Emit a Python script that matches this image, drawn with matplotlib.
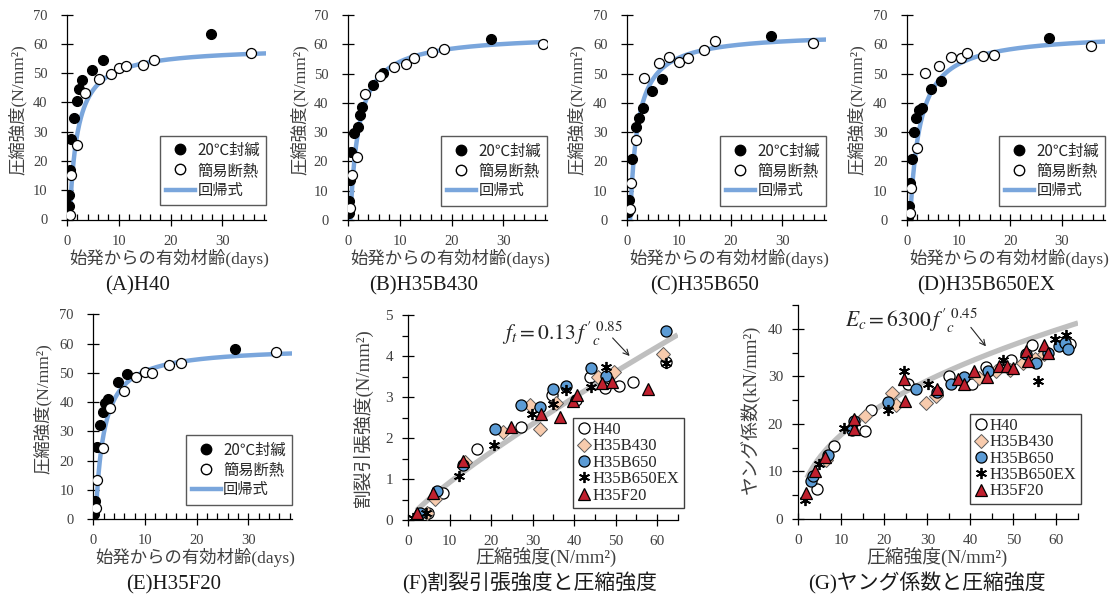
import matplotlib
matplotlib.use('Agg')
import matplotlib.pyplot as plt
import numpy as np
from matplotlib.ticker import MultipleLocator
from matplotlib.lines import Line2D

plt.rcParams['font.family'] = ['Liberation Serif', 'Noto Sans CJK JP']
plt.rcParams['mathtext.fontset'] = 'stix'

# ---------------- data: strength development (A)-(E) ----------------
A_seal_t = [0.3, 0.4, 0.6, 0.8, 1.3, 1.9, 2.3, 2.8, 4.9, 6.9, 27.8]
A_seal_f = [4.5, 8.2, 16.8, 27.4, 34.8, 40.4, 44.4, 47.8, 51.2, 54.6, 63.2]
A_adia_t = [0.5, 0.8, 1.9, 3.4, 6.1, 8.4, 10.1, 11.4, 14.6, 16.8, 35.6]
A_adia_f = [1.7, 15.3, 25.5, 43.2, 47.9, 49.7, 51.9, 52.5, 52.7, 54.6, 57.0]
A_fit = (59.0, 1.52, 0.5)   # (f_inf, a, t0) of regression f = f_inf (t-t0)/(a+t-t0)

B_seal_t = [0.2, 0.3, 0.4, 0.6, 1.3, 1.9, 2.3, 2.8, 4.9, 6.8, 27.6]
B_seal_f = [2.3, 6.5, 13.7, 23.1, 29.6, 31.7, 35.8, 38.5, 46.1, 50.1, 61.9]
B_adia_t = [0.5, 0.8, 1.8, 3.4, 6.2, 9.0, 11.2, 12.7, 16.2, 18.5, 37.6]
B_adia_f = [4.0, 15.4, 21.6, 42.9, 49.3, 52.1, 53.1, 55.2, 57.3, 58.5, 60.0]
B_fit = (63.5, 1.67, 0.5)

C_seal_t = [0.2, 0.45, 1.0, 1.8, 2.4, 3.0, 4.9, 6.8, 27.8]
C_seal_f = [2.7, 6.8, 20.8, 31.7, 35.0, 38.3, 44.1, 48.0, 62.8]
C_adia_t = [0.6, 0.8, 1.7, 3.2, 6.1, 8.2, 10.0, 11.8, 14.9, 17.0, 35.9]
C_adia_f = [3.9, 12.7, 27.3, 48.4, 53.5, 55.5, 54.0, 55.2, 58.2, 61.2, 60.5]
C_fit = (64.0, 1.46, 0.6)

D_seal_t = [0.1, 0.3, 0.6, 0.9, 1.3, 1.8, 2.4, 2.9, 4.7, 6.6, 27.5]
D_seal_f = [1.1, 4.8, 12.5, 20.7, 30.1, 34.7, 37.5, 38.3, 44.6, 47.4, 62.0]
D_adia_t = [0.6, 0.8, 1.9, 3.4, 6.3, 8.6, 10.4, 11.6, 14.7, 16.8, 35.7]
D_adia_f = [2.3, 10.8, 24.5, 50.3, 52.6, 55.5, 55.2, 57.1, 55.9, 56.3, 59.5]
D_fit = (64.0, 1.9, 0.6)

E_seal_t = [0.2, 0.4, 0.7, 1.3, 1.8, 2.3, 2.8, 4.7, 6.6, 27.4]
E_seal_f = [1.6, 6.2, 24.7, 32.2, 36.5, 39.8, 41.0, 47.0, 49.5, 58.2]
E_adia_t = [0.6, 0.8, 1.9, 3.3, 5.9, 8.2, 10.0, 11.4, 14.6, 16.9, 35.3]
E_adia_f = [3.9, 13.3, 24.2, 38.1, 43.9, 48.7, 50.1, 49.8, 52.7, 53.5, 57.0]
E_fit = (59.0, 1.6, 0.45)

# ---------------- data: (F) splitting tensile vs compressive ----------------
F_H40_x = [4.7, 8.3, 16.6, 27.1, 34.7, 40.4, 43.9, 47.4, 50.8, 54.2, 62.1]
F_H40_y = [0.16, 0.65, 1.74, 2.27, 3.05, 2.93, 3.48, 3.22, 3.28, 3.36, 3.86]
F_B430_x = [4.4, 6.4, 13.7, 22.9, 29.3, 31.7, 35.6, 45.8, 49.6, 61.4]
F_B430_y = [0.18, 0.51, 1.42, 2.14, 2.81, 2.21, 2.85, 3.50, 3.60, 4.06]
F_B650_x = [2.9, 7.0, 13.1, 20.9, 27.3, 31.7, 34.9, 38.0, 44.0, 47.8, 62.1]
F_B650_y = [0.17, 0.70, 1.35, 2.21, 2.81, 2.75, 3.20, 3.28, 3.71, 3.52, 4.61]
F_EX_x = [1.2, 4.3, 12.3, 20.7, 29.9, 34.8, 38.0, 44.2, 47.6, 62.1]
F_EX_y = [0.04, 0.16, 1.07, 1.82, 2.59, 2.83, 3.18, 3.24, 3.72, 3.83]
F_F20_x = [2.0, 6.0, 13.3, 24.7, 32.1, 36.7, 39.8, 40.8, 46.8, 49.2, 57.9]
F_F20_y = [0.16, 0.66, 1.43, 2.28, 2.59, 2.52, 2.90, 3.06, 3.34, 3.36, 3.20]
F_coef, F_exp = 0.13, 0.85

# ---------------- data: (G) Young's modulus vs compressive ----------------
G_H40_x = [4.4, 8.3, 15.6, 16.8, 25.5, 35.0, 40.3, 43.6, 49.5, 54.3, 63.1]
G_H40_y = [6.3, 15.4, 18.4, 23.0, 28.3, 30.0, 28.4, 31.9, 33.5, 36.5, 36.9]
G_B430_x = [6.5, 15.4, 21.8, 22.8, 29.6, 31.9, 42.0, 46.0, 49.1, 52.2, 54.9, 57.2]
G_B430_y = [12.5, 21.7, 26.4, 24.0, 24.3, 25.8, 29.7, 31.1, 31.3, 32.8, 33.7, 34.6]
G_B650_x = [2.9, 3.5, 6.8, 12.5, 13.0, 20.8, 27.3, 32.2, 35.4, 38.5, 44.0, 53.0, 55.3, 58.0, 60.7, 61.9, 62.7]
G_B650_y = [7.9, 9.1, 13.5, 18.8, 20.7, 24.5, 27.4, 26.7, 28.3, 29.8, 31.1, 34.6, 32.8, 35.0, 36.4, 37.1, 35.7]
G_EX_x = [1.6, 4.7, 10.7, 20.8, 24.5, 30.1, 47.5, 55.8, 59.6, 62.3]
G_EX_y = [4.1, 11.6, 19.2, 23.0, 31.1, 28.3, 33.5, 29.0, 37.9, 38.6]
G_F20_x = [1.8, 3.9, 6.2, 12.9, 12.9, 24.5, 24.8, 32.3, 37.0, 38.4, 40.9, 43.9, 46.7, 48.5, 49.9, 52.8, 53.4, 57.0, 58.0]
G_F20_y = [5.4, 10.0, 13.1, 18.9, 21.1, 29.5, 24.9, 27.3, 29.5, 28.3, 31.2, 29.8, 32.1, 32.1, 31.8, 35.3, 33.2, 36.5, 35.0]
G_coef, G_exp = 6.3, 0.45   # kN/mm2 (= 6300 N/mm2)

# ---------------- layout helpers ----------------
W, H = 1116, 600
fig = plt.figure(figsize=(W / 100, H / 100), dpi=100)

TXT = '#404040'
BLUE = '#7AA6DC'
GRAY = '#BFBFBF'


def px_axes(l, t, r, b):
    return fig.add_axes([l / W, 1 - b / H, (r - l) / W, (b - t) / H])


def ftext(x, y, s, **kw):
    fig.text(x / W, 1 - y / H, s, ha='center', va='center', **kw)


def style_axes(ax, xlab_size, ylab_pad, xlab_pad):
    for s in ['top', 'right']:
        ax.spines[s].set_visible(False)
    for s in ['left', 'bottom']:
        ax.spines[s].set_linewidth(0.9)
    ax.tick_params(axis='x', which='major', direction='inout', length=8, width=0.9,
                   pad=xlab_pad, labelsize=xlab_size, labelcolor=TXT)
    ax.tick_params(axis='y', which='major', direction='inout', length=8, width=0.9,
                   pad=ylab_pad, labelsize=xlab_size, labelcolor=TXT)
    ax.tick_params(axis='x', which='minor', direction='in', length=4, width=0.9)
    ax.tick_params(axis='y', which='minor', direction='out', length=4, width=0.9)


def age_panel(rect, st, sf, at, af, fit, title, ylx, yly, xlx, xly, ttx, tty):
    ax = px_axes(*rect)
    t0 = fit[2]
    tt = np.linspace(t0, 40, 400)
    ff = fit[0] * (tt - t0) / (fit[1] + tt - t0)
    ax.plot(tt, ff, color=BLUE, lw=3.2, zorder=2, solid_capstyle='butt')
    ax.plot(st, sf, ls='none', marker='o', ms=7.2, mfc='black', mec='black', mew=0.8, zorder=3)
    ax.plot(at, af, ls='none', marker='o', ms=7.2, mfc='white', mec='black', mew=0.9, zorder=3)
    ax.set_xlim(0, 38.4)
    ax.set_ylim(0, 70)
    ax.xaxis.set_major_locator(MultipleLocator(10))
    ax.xaxis.set_minor_locator(MultipleLocator(2))
    ax.yaxis.set_major_locator(MultipleLocator(10))
    style_axes(ax, 10.5, 10, 7)
    handles = [Line2D([], [], ls='none', marker='o', ms=7.5, mfc='black', mec='black'),
               Line2D([], [], ls='none', marker='o', ms=7.5, mfc='white', mec='black'),
               Line2D([], [], color=BLUE, lw=3.2)]
    hpx = rect[3] - rect[1]
    leg = ax.legend(handles, ['20℃封緘', '簡易断熱', '回帰式'], loc='lower right',
                    bbox_to_anchor=(1.0, 14.5 / hpx), borderaxespad=0,
                    fancybox=False, edgecolor='#595959', framealpha=1,
                    prop=dict(family=['Noto Sans CJK JP'], size=11),
                    handlelength=1.9, handletextpad=0.15, labelspacing=0.2,
                    borderpad=0.4)
    leg.get_frame().set_linewidth(1.0)
    for t in leg.get_texts():
        t.set_color('#262626')
    ftext(ylx, yly, '圧縮強度(N/mm²)', rotation=90, fontsize=12.5, color=TXT)
    ftext(xlx, xly, '始発からの有効材齢(days)', fontsize=12.5, color=TXT)
    ftext(ttx, tty, title, fontsize=15, color='#1a1a1a')
    return ax


age_panel((67, 14.5, 266, 219.5), A_seal_t, A_seal_f, A_adia_t, A_adia_f, A_fit,
          '(A)H40', 18, 110, 169.5, 258, 137.5, 286)
age_panel((347.7, 15, 547, 220), B_seal_t, B_seal_f, B_adia_t, B_adia_f, B_fit,
          '(B)H35B430', 300, 110, 450, 258, 424, 286)
age_panel((627, 15, 826, 220), C_seal_t, C_seal_f, C_adia_t, C_adia_f, C_fit,
          '(C)H35B650', 577, 110, 729.5, 258, 705, 286)
age_panel((907, 15, 1105, 220), D_seal_t, D_seal_f, D_adia_t, D_adia_f, D_fit,
          '(D)H35B650EX', 857, 110, 1009, 258, 986, 286)
age_panel((93.3, 314.3, 291.7, 519), E_seal_t, E_seal_f, E_adia_t, E_adia_f, E_fit,
          '(E)H35F20', 43, 409, 195, 557, 173.5, 585)

# ---------------- (F) and (G) ----------------
series_style = [
    dict(label='H40', marker='o', ms=8, mfc='white', mec='black', mew=0.9),
    dict(label='H35B430', marker='D', ms=7, mfc='#F8CBAD', mec='#595959', mew=0.7),
    dict(label='H35B650', marker='o', ms=8, mfc='#5B9BD5', mec='black', mew=0.9),
    dict(label='H35B650EX', marker=(6, 2, 0), ms=8, mfc='black', mec='black', mew=1.3),
    dict(label='H35F20', marker='^', ms=8.5, mfc='#C0202E', mec='black', mew=0.9),
]


def rel_panel(rect, xs, ys, coef, expo, ylim, ymajor, yminor, ylab, ylx, yly,
              xlx, title, ttx, eq, eq_xy, arr_from, arr_to, leg_box):
    ax = px_axes(*rect)
    xx = np.linspace(2.0, 65, 300)
    ax.plot(xx, coef * xx ** expo, color=GRAY, lw=3.8, zorder=1, solid_capstyle='butt')
    for x, y, st in zip(xs, ys, series_style):
        ax.plot(x, y, ls='none', zorder=3, **st)
    ax.set_xlim(0, 65)
    ax.set_ylim(0, ylim)
    ax.xaxis.set_major_locator(MultipleLocator(10))
    ax.xaxis.set_minor_locator(MultipleLocator(5))
    ax.yaxis.set_major_locator(MultipleLocator(ymajor))
    ax.yaxis.set_minor_locator(MultipleLocator(yminor))
    style_axes(ax, 11, 7, 7)
    ax.text(eq_xy[0], eq_xy[1], eq, fontsize=15.5, ha='left', va='center', color='#262626')
    ax.annotate('', xy=arr_to, xytext=arr_from,
                arrowprops=dict(arrowstyle='->', color='#262626', lw=0.8,
                                shrinkA=0, shrinkB=0))
    l, t, r, b = leg_box
    leg = ax.legend(loc='upper left', bbox_to_anchor=(l / W, 1 - t / H),
                    bbox_transform=fig.transFigure, borderaxespad=0,
                    fancybox=False, edgecolor='#404040', framealpha=1,
                    prop=dict(size=12), handlelength=0.8, handletextpad=0.15,
                    labelspacing=0.02, borderpad=0.25)
    leg.get_frame().set_linewidth(1.0)
    for t_ in leg.get_texts():
        t_.set_color('#262626')
    ftext(ylx, yly, ylab, rotation=90, fontsize=13.5, color=TXT)
    ftext(xlx, 557, '圧縮強度(N/mm²)', fontsize=13.5, color=TXT)
    ftext(ttx, 583, title, fontsize=15, color='#1a1a1a')
    return ax


rel_panel((408.3, 315, 677.7, 520),
          [F_H40_x, F_B430_x, F_B650_x, F_EX_x, F_F20_x],
          [F_H40_y, F_B430_y, F_B650_y, F_EX_y, F_F20_y],
          F_coef, F_exp, 5, 1, 0.5, '割裂引張強度(N/mm²)', 363, 417.5,
          546, '(F)割裂引張強度と圧縮強度', 530,
          r"$f_t = 0.13\,{f\,'}_{c}^{\ 0.85}$", (22.5, 4.54), (49.3, 4.44), (53.4, 4.0),
          (572.7, 418, 688, 506.5))

rel_panel((798.3, 305, 1078, 519),
          [G_H40_x, G_B430_x, G_B650_x, G_EX_x, G_F20_x],
          [G_H40_y, G_B430_y, G_B650_y, G_EX_y, G_F20_y],
          G_coef, G_exp, 45, 10, 5, 'ヤング係数(kN/mm²)', 750, 409,
          937, '(G)ヤング係数と圧縮強度', 927,
          r"$E_c = 6300\,{f\,'}_{c}^{\ 0.45}$", (10.9, 41.6), (40.1, 40.3), (43.6, 36.3),
          (970, 414, 1088, 503.5))

fig.savefig('out.png', dpi=100, facecolor='white')
